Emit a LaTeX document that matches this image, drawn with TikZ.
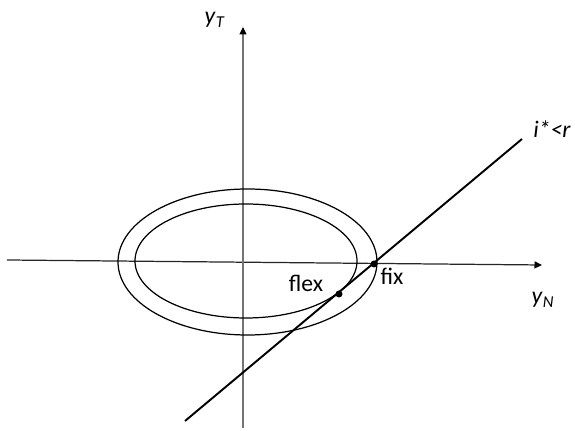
\documentclass[tikz,border=0pt]{standalone}
\usepackage{fontspec}
\setmainfont{Carlito}
\usetikzlibrary{arrows.meta}

\begin{document}
\begin{tikzpicture}[
    x=0.02cm, y=-0.02cm,
    font=\fontsize{13.5}{16}\selectfont,
    >={Triangle[length=1.5mm,width=1.4mm,color=black]},
    axis/.style={->, line width=0.7pt, draw=black!55},
    curve/.style={line width=0.7pt, draw=black},
    dot/.style={circle, fill=black, inner sep=0pt, minimum size=0.14cm},
    lbl/.style={inner sep=0pt}
]
\useasboundingbox (0,0) rectangle (575,431);

\coordinate (xstart) at (7,260);
\coordinate (xend) at (542,265);
\coordinate (ystart) at (243,428);
\coordinate (yend) at (243,27);

\draw[axis, draw=black!85] (xstart) -- (xend);
\draw[axis] (ystart) -- (yend);

\draw[curve] (247.5,262) ellipse [x radius=129.5, y radius=73];
\draw[curve] (246,261) ellipse [x radius=111, y radius=57];

\coordinate (low) at (185,421);
\coordinate (high) at (522,139);
\draw[line width=1.1pt] (low) -- (high);

\node[dot] (fix) at (374,264) {};
\node[dot] (flex) at (339,294) {};

\node[lbl] (yT) at (215,20) {\textit{y}\textsubscript{\textit{T}}};
\node[lbl] (yN) at (543,300) {\textit{y}\textsubscript{\textit{N}}};
\node[lbl] (cond) at (552,129) {\textit{i*<r}};
\node[lbl] (fixlbl) at (392,276) {fix};
\node[lbl] (flexlbl) at (306,283) {flex};

\end{tikzpicture}
\end{document}
